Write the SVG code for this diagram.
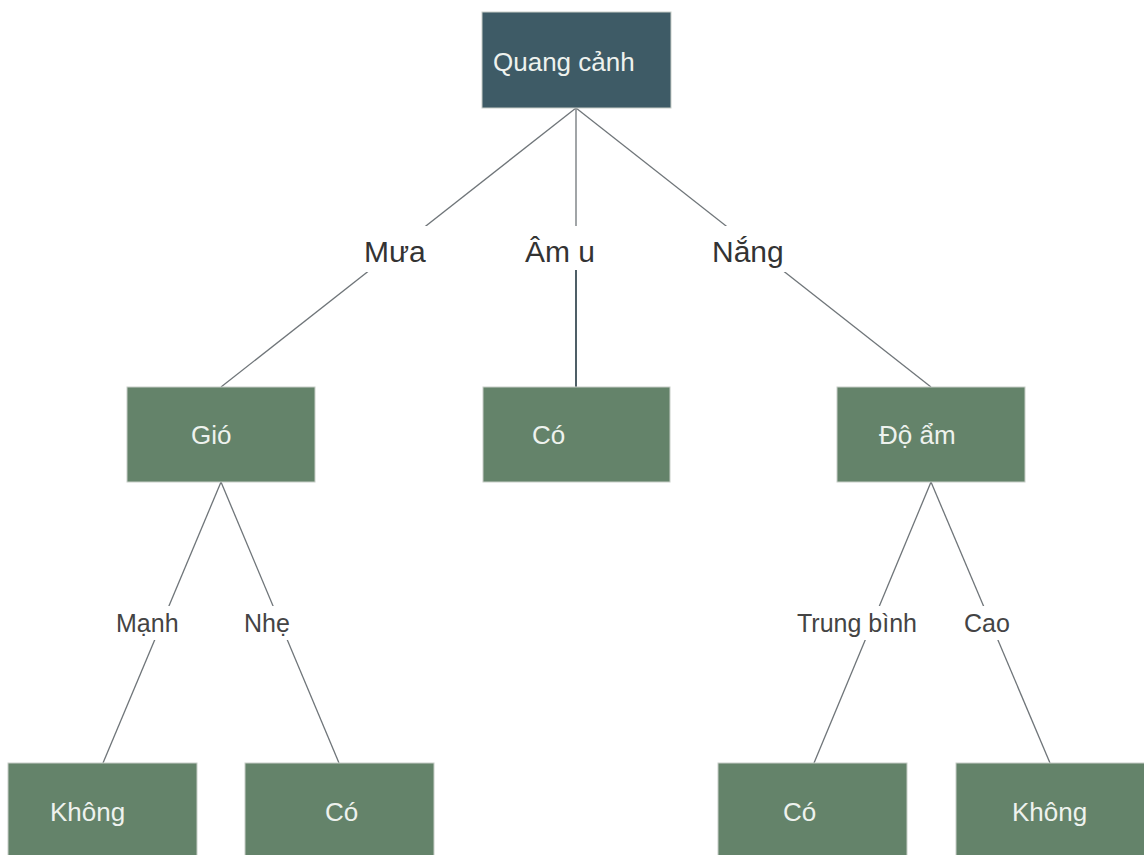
<svg xmlns="http://www.w3.org/2000/svg" width="1144" height="855" viewBox="0 0 1144 855">
<style>
.box{fill:#64836A;stroke:#c8cec8;stroke-width:1}
.root{fill:#3E5B66;stroke:#c8cec8;stroke-width:1}
.nt{font-family:"Liberation Sans",Arial,sans-serif;font-size:26px;fill:#EEF2EE}
.edge{stroke:#6f7579;stroke-width:1.3;fill:none}
.lblbg{fill:#ffffff}
.big{font-family:"Liberation Sans",Arial,sans-serif;font-size:30px;fill:#333333}
.small{font-family:"Liberation Sans",Arial,sans-serif;font-size:25px;fill:#444444}
</style>
<rect width="1144" height="855" fill="#ffffff"/>
<g id="connectors">
<line class="edge" x1="576" y1="108" x2="221" y2="387"/>
<line class="edge" x1="576" y1="108" x2="576" y2="387"/>
<line class="edge" x1="576" y1="108" x2="931" y2="387"/>
<line class="edge" x1="221" y1="482" x2="103" y2="763"/>
<line class="edge" x1="221" y1="482" x2="339" y2="763"/>
<line class="edge" x1="931" y1="482" x2="814" y2="763"/>
<line class="edge" x1="931" y1="482" x2="1050" y2="763"/>
<line x1="576" y1="270" x2="576" y2="387" stroke="#3a4d57" stroke-width="1.6"/>
<g id="label-mua"><rect class="lblbg" x="362" y="226" width="68" height="46"/><text class="big" x="364" y="262">Mưa</text></g>
<g id="label-amu"><rect class="lblbg" x="522" y="226" width="84" height="44"/><text class="big" x="525" y="262">Âm u</text></g>
<g id="label-nang"><rect class="lblbg" x="708" y="226" width="86" height="46"/><text class="big" x="712" y="262">Nắng</text></g>
<g id="label-manh"><rect class="lblbg" x="112" y="606" width="92" height="34"/><text class="small" x="116" y="632">Mạnh</text></g>
<g id="label-nhe"><rect class="lblbg" x="238" y="606" width="62" height="34"/><text class="small" x="244" y="632">Nhẹ</text></g>
<g id="label-trungbinh"><rect class="lblbg" x="794" y="606" width="136" height="34"/><text class="small" x="797" y="632">Trung bình</text></g>
<g id="label-cao"><rect class="lblbg" x="960" y="606" width="56" height="34"/><text class="small" x="964" y="632">Cao</text></g>
</g>
<g id="node-quangcanh"><rect class="root" x="482" y="12" width="189" height="96"/><text class="nt" x="493" y="71">Quang cảnh</text></g>
<g id="node-gio"><rect class="box" x="127" y="387" width="188" height="95"/><text class="nt" x="191" y="444">Gió</text></g>
<g id="node-co-mid"><rect class="box" x="483" y="387" width="187" height="95"/><text class="nt" x="532" y="444">Có</text></g>
<g id="node-doam"><rect class="box" x="837" y="387" width="188" height="95"/><text class="nt" x="879" y="444">Độ ẩm</text></g>
<g id="node-khong-left"><rect class="box" x="8" y="763" width="189" height="100"/><text class="nt" x="50" y="821">Không</text></g>
<g id="node-co-left"><rect class="box" x="245" y="763" width="189" height="100"/><text class="nt" x="325" y="821">Có</text></g>
<g id="node-co-right"><rect class="box" x="718" y="763" width="189" height="100"/><text class="nt" x="783" y="821">Có</text></g>
<g id="node-khong-right"><rect class="box" x="956" y="763" width="189" height="100"/><text class="nt" x="1012" y="821">Không</text></g>
</svg>
